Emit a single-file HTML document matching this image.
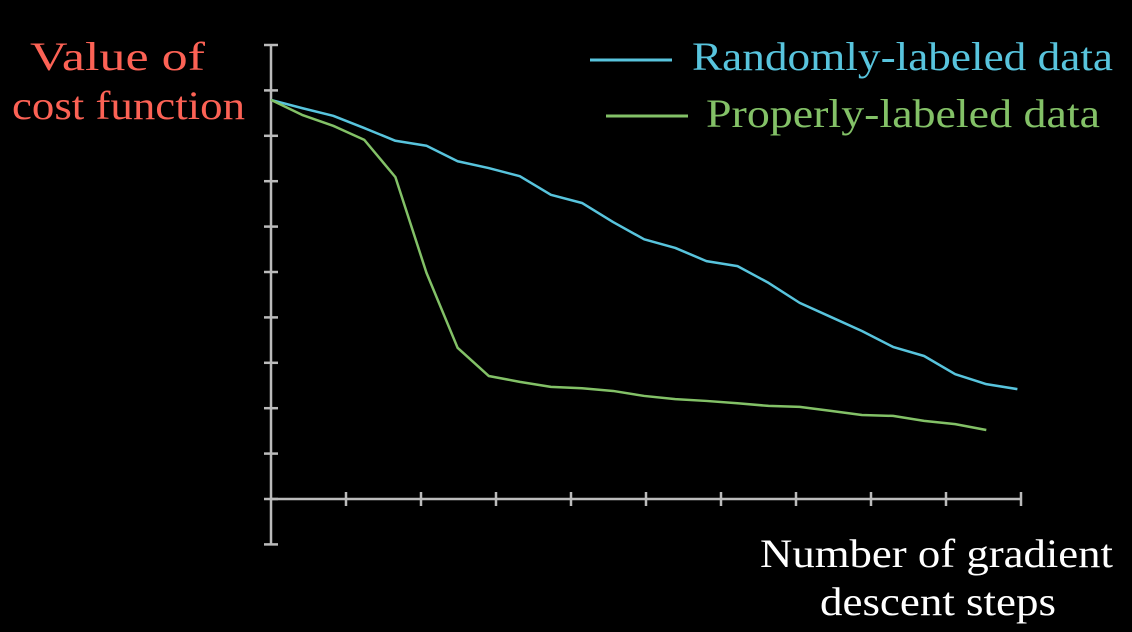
<!DOCTYPE html>
<html><head><meta charset="utf-8"><style>
html,body{margin:0;padding:0;background:#000;}
svg{display:block;}
text{font-family:"Liberation Serif",serif;}
</style></head><body>
<svg id="chart" width="1132" height="632" viewBox="0 0 1132 632">
<g id="axes"></g>
<g id="series"></g>
<text x="30" y="70" font-size="40" fill="#fc6255" textLength="175" lengthAdjust="spacingAndGlyphs">Value of</text>
<text x="12" y="119" font-size="40" fill="#fc6255" textLength="233" lengthAdjust="spacingAndGlyphs">cost function</text>
<line x1="590" y1="60" x2="672" y2="60" stroke="#58c4dd" stroke-width="3"/>
<text x="692" y="70" font-size="40" fill="#58c4dd" textLength="421" lengthAdjust="spacingAndGlyphs">Randomly-labeled data</text>
<line x1="606" y1="116" x2="688" y2="116" stroke="#83c167" stroke-width="3"/>
<text x="706" y="127" font-size="40" fill="#83c167" textLength="394" lengthAdjust="spacingAndGlyphs">Properly-labeled data</text>
<text x="760" y="567" font-size="40" fill="#fff" textLength="353" lengthAdjust="spacingAndGlyphs">Number of gradient</text>
<text x="820" y="615" font-size="40" fill="#fff" textLength="236" lengthAdjust="spacingAndGlyphs">descent steps</text>
</svg>
<script>
const randomValues=[8.79,8.61,8.44,8.17,7.89,7.78,7.44,7.29,7.11,6.70,6.52,6.10,5.72,5.53,5.24,5.13,4.76,4.32,4.01,3.70,3.35,3.15,2.75,2.53,2.42];
const properValues=[8.79,8.46,8.22,7.91,7.09,4.98,3.33,2.71,2.58,2.47,2.44,2.38,2.27,2.20,2.16,2.11,2.05,2.03,1.94,1.85,1.83,1.72,1.65,1.52];
const xTicks=[0,1,2,3,4,5,6,7,8,9,10];
const yTicks=[-1,0,1,2,3,4,5,6,7,8,9,10];
const NS="http://www.w3.org/2000/svg";
function xs(step){return 271+step*31.1;}
function xt(t){return 271+t*75;}
function ys(v){return 499-v*45.4;}
const axes=document.getElementById('axes');
function ln(x1,y1,x2,y2,name){const l=document.createElementNS(NS,'line');
l.setAttribute('x1',x1);l.setAttribute('y1',y1);l.setAttribute('x2',x2);l.setAttribute('y2',y2);
l.setAttribute('stroke','#bbbbbb');l.setAttribute('stroke-width','2.5');


axes.appendChild(l);}
ln(xt(0),ys(-1),xt(0),ys(10),'y-axis');
ln(xt(0),ys(0),xt(10),ys(0),'x-axis');
yTicks.forEach(t=>{ln(xt(0)-7,ys(t),xt(0)+7,ys(t),'y-tick');});
xTicks.slice(1).forEach(t=>{ln(xt(t),ys(0)-7,xt(t),ys(0)+7,'x-tick');});
const series=document.getElementById('series');
function path(vals,color,name){const p=document.createElementNS(NS,'polyline');
p.setAttribute('points',vals.map((v,i)=>xs(i)+','+ys(v)).join(' '));
p.setAttribute('fill','none');p.setAttribute('stroke',color);p.setAttribute('stroke-width','2.5');
p.setAttribute('stroke-linejoin','round');


series.appendChild(p);}
path(randomValues,'#58c4dd','random-labeled-line');
path(properValues,'#83c167','properly-labeled-line');
</script>
</body></html>
